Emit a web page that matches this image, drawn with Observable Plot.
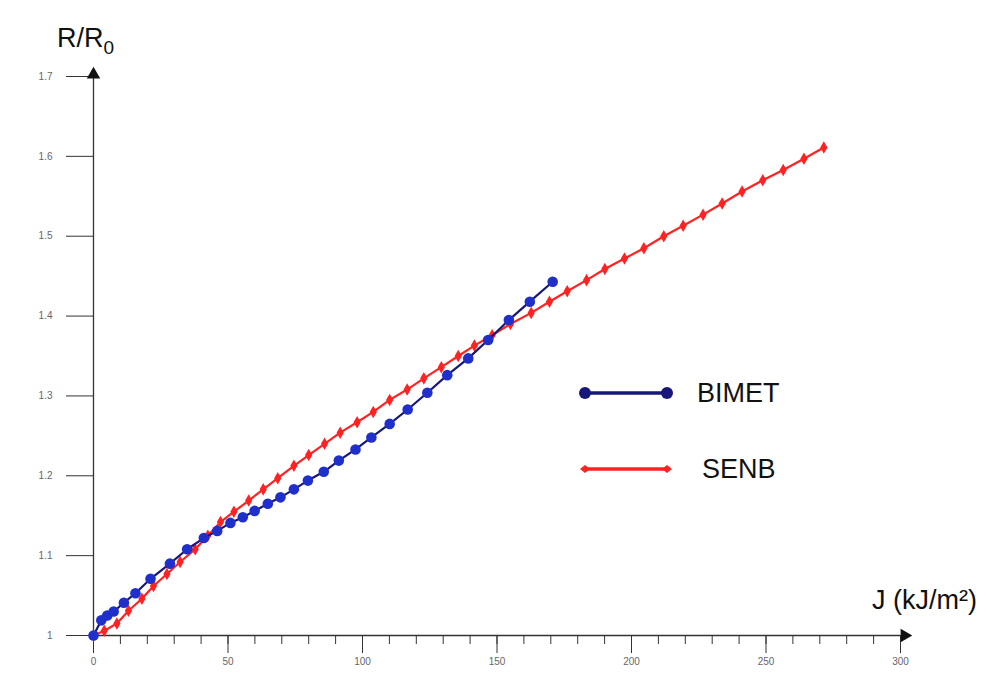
<!DOCTYPE html>
<html><head><meta charset="utf-8">
<script src="https://cdn.jsdelivr.net/npm/d3@7"></script>
<script src="https://cdn.jsdelivr.net/npm/@observablehq/plot@0.6"></script>
<style>
body{margin:0;background:#fff;font-family:"Liberation Sans",Arial,sans-serif}
#wrap{position:relative;width:989px;height:673px;overflow:hidden}
#wrap svg.plot{position:absolute;left:0;top:0}
.lbl{position:absolute;font-size:27px;color:#111;line-height:1;white-space:nowrap}
.lbl sub{font-size:19px;vertical-align:-7px}
.sw{position:absolute}
</style></head><body><div id="wrap"></div>
<script>
// BIMET series (J in kJ/m², R/R0)
const bimetJ = [0, 2.9, 5.1, 7.5, 11.3, 15.6, 21.2, 28.4, 34.8, 41.0, 46.0, 50.9, 55.5, 59.9, 64.8, 69.5, 74.5, 79.7, 85.6, 91.2, 97.4, 103.3, 110.1, 116.8, 124.1, 131.5, 139.3, 146.7, 154.4, 162.2, 170.7];
const bimetR = [1.000, 1.019, 1.025, 1.030, 1.041, 1.053, 1.071, 1.090, 1.108, 1.122, 1.131, 1.141, 1.148, 1.156, 1.165, 1.173, 1.183, 1.194, 1.205, 1.219, 1.233, 1.248, 1.265, 1.283, 1.304, 1.326, 1.347, 1.370, 1.395, 1.418, 1.443];
// SENB series
const senbJ = [0, 4.0, 8.7, 13.0, 18.0, 22.3, 27.3, 32.2, 37.8, 42.5, 47.2, 52.2, 57.7, 63.1, 68.5, 74.5, 80.0, 85.9, 91.7, 98.0, 104.0, 110.1, 116.6, 122.8, 129.3, 135.6, 141.6, 148.2, 155.0, 162.7, 169.5, 176.1, 183.3, 190.1, 197.4, 204.6, 212.0, 219.2, 226.6, 233.7, 241.1, 248.8, 256.4, 264.1, 271.5];
const senbR = [1.000, 1.006, 1.015, 1.031, 1.046, 1.062, 1.077, 1.092, 1.108, 1.125, 1.142, 1.155, 1.169, 1.183, 1.197, 1.2125, 1.226, 1.240, 1.254, 1.267, 1.280, 1.295, 1.308, 1.322, 1.336, 1.350, 1.363, 1.376, 1.390, 1.404, 1.418, 1.431, 1.445, 1.459, 1.472, 1.485, 1.500, 1.513, 1.527, 1.541, 1.556, 1.570, 1.583, 1.597, 1.611];

const xMajorTicks = [0, 50, 100, 150, 200, 250, 300];
const xMinorTicks = [0,10,20,30,40,50,60,70,80,90,100,110,120,130,140,150,160,170,180,190,200,210,220,230,240,250,260,270,280,290,300];
const yTicks = [1, 1.1, 1.2, 1.3, 1.4, 1.5, 1.6, 1.7];
const yTickLabels = ["1", "1.1", "1.2", "1.3", "1.4", "1.5", "1.6", "1.7"];
const seriesNames = ["BIMET", "SENB"];

const bimet = bimetJ.map((j, i) => ({J: j, R: bimetR[i]}));
const senb = senbJ.map((j, i) => ({J: j, R: senbR[i]}));

const navy = "#17177a", blue = "#1f2fcc", red = "#ff2222", axisC = "#333";

const chart = Plot.plot({
  width: 989, height: 673,
  marginLeft: 93, marginRight: 89, marginTop: 76, marginBottom: 38,
  style: {background: "transparent", fontFamily: "'Liberation Sans', Arial, sans-serif"},
  x: {domain: [xMajorTicks[0], xMajorTicks[xMajorTicks.length - 1]]},
  y: {domain: [yTicks[0], yTicks[yTicks.length - 1]]},
  marks: [
    Plot.axisX({ticks: xMinorTicks, tickSize: 9, tickFormat: () => "", stroke: axisC, label: null}),
    Plot.axisX({ticks: xMajorTicks, tickSize: 18, tickPadding: 4, fontSize: 10, fill: "#666", stroke: axisC, label: null}),
    Plot.axisY({ticks: yTicks, tickSize: 27, tickPadding: 14, fontSize: 10, fill: "#666", stroke: axisC, label: null,
      tickFormat: (d) => yTickLabels[yTicks.indexOf(d)]}),
    Plot.ruleX([xMajorTicks[0]], {stroke: axisC, strokeWidth: 1.3}),
    Plot.ruleY([yTicks[0]], {stroke: axisC, strokeWidth: 1.3}),
    Plot.dot([{x: xMajorTicks[0], y: yTicks[yTicks.length - 1]}], {x: "x", y: "y", symbol: "triangle", r: 5, fill: "#111", dy: -2}),
    Plot.dot([{x: xMajorTicks[xMajorTicks.length - 1], y: yTicks[0]}], {x: "x", y: "y", symbol: "triangle", r: 5, fill: "#111", rotate: 90, dx: 4}),
    Plot.line(senb, {x: "J", y: "R", stroke: red, strokeWidth: 2.2}),
    Plot.dot(senb, {x: "J", y: "R", symbol: "diamond", r: 3.8, fill: red}),
    Plot.line(bimet, {x: "J", y: "R", stroke: navy, strokeWidth: 2.2}),
    Plot.dot(bimet, {x: "J", y: "R", r: 5.3, fill: blue})
  ]
});
chart.classList.add("plot");
const wrap = document.getElementById("wrap");
wrap.appendChild(chart);

function addLabel(html, left, top) {
  const d = document.createElement("div");
  d.className = "lbl";
  d.innerHTML = html;
  d.style.left = left + "px";
  d.style.top = top + "px";
  wrap.appendChild(d);
}
addLabel("R/R<sub>0</sub>", 57, 25);
addLabel("J (kJ/m²)", 872, 587);
addLabel(seriesNames[0], 697, 380);
addLabel(seriesNames[1], 702, 456);

// legend swatches
const ns = "http://www.w3.org/2000/svg";
function swatch(top, color, markColor, kind) {
  const s = document.createElementNS(ns, "svg");
  s.setAttribute("class", "sw");
  s.setAttribute("width", 100); s.setAttribute("height", 20);
  s.style.left = "577px"; s.style.top = (top - 10) + "px";
  let inner = `<line x1="8" y1="10" x2="90" y2="10" stroke="${color}" stroke-width="3.5"/>`;
  for (const cx of [8, 90]) {
    if (kind === "circle") inner += `<circle cx="${cx}" cy="10" r="6" fill="${markColor}"/>`;
    else inner += `<path d="M${cx-5},10L${cx},6L${cx+5},10L${cx},14Z" fill="${markColor}"/>`;
  }
  s.innerHTML = inner;
  wrap.appendChild(s);
}
swatch(393, navy, navy, "circle");
swatch(469, red, red, "diamond");
</script>
</body></html>
